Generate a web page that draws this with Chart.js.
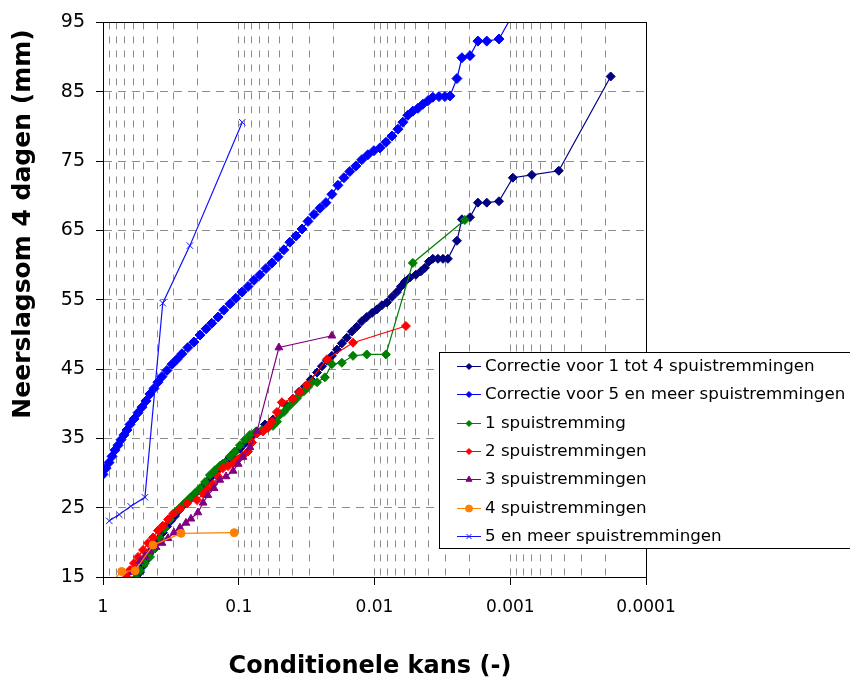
<!DOCTYPE html>
<html>
<head>
<meta charset="utf-8">
<script src="https://cdn.jsdelivr.net/npm/chart.js@4.4.1/dist/chart.umd.min.js"></script>
<style>
  html, body { margin: 0; padding: 0; background: #fff; }
  canvas { display: block; }
</style>
</head>
<body>
<canvas id="kansChart" width="850" height="681"></canvas>
<script>
// -------------------------------
// Data --------------------------
// -------------------------------
const seriesLabels = [
  "Correctie voor 1 tot 4 spuistremmingen",
  "Correctie voor 5 en meer spuistremmingen",
  "1 spuistremming",
  "2 spuistremmingen",
  "3 spuistremmingen",
  "4 spuistremmingen",
  "5 en meer spuistremmingen",
];

const xTickValues = [1, 0.1, 0.01, 0.001, 0.0001];
const xTickLabels = ["1", "0.1", "0.01", "0.001", "0.0001"];
const yTickValues = [15, 25, 35, 45, 55, 65, 75, 85, 95];

// Correctie voor 1 tot 4 spuistremmingen
const corr14Kans = [0.562, 0.534, 0.507, 0.482, 0.458, 0.436, 0.414, 0.387, 0.362, 0.338,
  0.316, 0.295, 0.276, 0.258, 0.241, 0.225, 0.210, 0.196, 0.183, 0.171,
  0.160, 0.150, 0.140, 0.131, 0.122, 0.114, 0.107, 0.0980, 0.0900, 0.0813,
  0.0734, 0.0641, 0.0560, 0.0497, 0.0442, 0.0399, 0.0360, 0.0325, 0.0294, 0.0265,
  0.0244, 0.0224, 0.0206, 0.0189, 0.0174, 0.0160, 0.0147, 0.0135, 0.0124, 0.0114,
  0.0104, 0.00960, 0.00882, 0.00810, 0.00744, 0.00684, 0.00639, 0.00597, 0.00549, 0.00496,
  0.00455, 0.00425, 0.00397, 0.00372, 0.00341, 0.00313, 0.00288, 0.00247, 0.00227, 0.00198,
  0.00173, 0.00149, 0.00121, 0.000957, 0.000693, 0.000439, 0.000182];
const corr14Neerslag = [14.9, 15.7, 16.6, 17.4, 18.3, 19.0, 19.7, 20.6, 21.4, 22.3,
  23.1, 23.8, 24.6, 25.3, 25.8, 26.4, 27.0, 27.5, 28.1, 28.7,
  29.4, 30.0, 30.7, 31.3, 31.8, 32.4, 33.0, 33.5, 34.3, 35.1,
  36.0, 37.0, 37.7, 38.5, 39.7, 40.7, 41.7, 42.5, 43.5, 44.5,
  45.4, 46.2, 46.9, 47.8, 48.7, 49.5, 50.4, 51.1, 51.9, 52.5,
  53.1, 53.6, 54.2, 54.6, 55.4, 56.1, 56.9, 57.6, 58.2, 58.6,
  59.1, 59.6, 60.5, 60.9, 60.9, 60.9, 60.9, 63.5, 66.6, 66.9,
  69.0, 69.0, 69.2, 72.6, 73.0, 73.6, 87.2];

// Correctie voor 5 en meer spuistremmingen
const corr5Kans = [1.000, 0.950, 0.903, 0.858, 0.816, 0.775, 0.737, 0.700, 0.666, 0.633,
  0.591, 0.552, 0.516, 0.482, 0.451, 0.421, 0.394, 0.368, 0.338, 0.310,
  0.285, 0.262, 0.237, 0.214, 0.193, 0.174, 0.158, 0.142, 0.129, 0.116,
  0.105, 0.0947, 0.0855, 0.0773, 0.0698, 0.0630, 0.0569, 0.0514, 0.0465, 0.0420,
  0.0379, 0.0342, 0.0309, 0.0279, 0.0252, 0.0228, 0.0206, 0.0186, 0.0168, 0.0152,
  0.0137, 0.0124, 0.0112, 0.0101, 0.00912, 0.00824, 0.00744, 0.00672, 0.00618, 0.00568,
  0.00522, 0.00479, 0.00440, 0.00404, 0.00372, 0.00335, 0.00303, 0.00278, 0.00247, 0.00227,
  0.00198, 0.00173, 0.00149, 0.00121, 0.000941];
const corr5Neerslag = [29.8, 30.7, 31.5, 32.4, 33.3, 34.0, 34.8, 35.5, 36.2, 37.0,
  37.8, 38.7, 39.5, 40.4, 41.4, 42.2, 43.1, 43.9, 44.8, 45.7,
  46.4, 47.2, 48.1, 48.9, 49.9, 50.8, 51.6, 52.5, 53.5, 54.4,
  55.2, 56.1, 56.9, 57.8, 58.6, 59.5, 60.3, 61.2, 62.2, 63.3,
  64.2, 65.2, 66.3, 67.3, 68.2, 69.0, 70.2, 71.5, 72.6, 73.5,
  74.3, 75.2, 75.9, 76.5, 76.9, 77.7, 78.6, 79.6, 80.6, 81.6,
  82.2, 82.6, 83.2, 83.7, 84.2, 84.3, 84.3, 84.4, 86.9, 89.9,
  90.2, 92.3, 92.3, 92.6, 96.4];

// 1 spuistremming
const een1Kans = [0.571, 0.534, 0.491, 0.451, 0.414, 0.380, 0.350, 0.321, 0.295, 0.271,
  0.249, 0.229, 0.210, 0.193, 0.177, 0.163, 0.150, 0.138, 0.126, 0.116,
  0.107, 0.0980, 0.0900, 0.0827, 0.0747, 0.0675, 0.0609, 0.0560, 0.0523, 0.0497,
  0.0465, 0.0434, 0.0399, 0.0373, 0.0354, 0.0331, 0.0309, 0.0289, 0.0265, 0.0232,
  0.0206, 0.0174, 0.0144, 0.0114, 0.00824, 0.00522, 0.00216];
const een1Neerslag = [14.9, 15.9, 17.0, 17.9, 19.1, 20.6, 22.0, 23.3, 24.3, 25.0,
  25.7, 26.4, 27.1, 27.8, 28.7, 29.7, 30.4, 31.0, 31.5, 32.4,
  33.1, 34.0, 34.8, 35.5, 36.0, 36.2, 36.5, 36.8, 37.4, 38.4,
  38.8, 39.5, 40.2, 40.8, 41.4, 41.8, 42.4, 43.1, 43.1, 43.8,
  45.7, 45.9, 46.9, 47.1, 47.1, 60.3, 66.5];

// 2 spuistremmingen
const twee2Kans = [0.666, 0.633, 0.591, 0.552, 0.507, 0.466, 0.428, 0.394, 0.362, 0.332,
  0.305, 0.271, 0.241, 0.203, 0.183, 0.169, 0.155, 0.142, 0.131, 0.120,
  0.110, 0.101, 0.0931, 0.0855, 0.0799, 0.0734, 0.0663, 0.0609, 0.0569, 0.0523,
  0.0481, 0.0399, 0.0354, 0.0315, 0.0224, 0.0144, 0.00587];
const twee2Neerslag = [15.0, 16.0, 17.0, 17.9, 18.9, 19.9, 20.7, 21.7, 22.4, 23.3,
  24.1, 24.8, 25.6, 26.1, 27.0, 27.7, 28.4, 29.5, 30.7, 31.0,
  31.4, 32.0, 32.5, 33.1, 34.4, 35.7, 36.0, 36.7, 37.4, 38.8,
  40.2, 40.7, 41.7, 42.7, 46.4, 48.8, 51.2];

// 3 spuistremmingen
const drie3Kans = [0.601, 0.534, 0.491, 0.451, 0.407, 0.368, 0.332, 0.300, 0.271, 0.245,
  0.225, 0.200, 0.183, 0.169, 0.152, 0.138, 0.124, 0.110, 0.101, 0.0931,
  0.0827, 0.0734, 0.0506, 0.0206];
const drie3Neerslag = [15.7, 17.3, 18.0, 18.7, 19.3, 19.9, 20.6, 21.4, 22.1, 22.8,
  23.4, 24.3, 25.7, 26.8, 27.8, 29.0, 29.5, 30.3, 31.3, 32.3,
  33.7, 36.0, 48.1, 49.8];

// 4 spuistremmingen
const vier4Kans = [0.893, 0.728, 0.581, 0.428, 0.266, 0.108];
const vier4Neerslag = [14.0, 15.8, 15.9, 19.6, 21.3, 21.4];

// 5 en meer spuistremmingen
const vijf5Kans = [0.899, 0.759, 0.625, 0.491, 0.363, 0.229, 0.0942];
const vijf5Neerslag = [23.1, 24.0, 25.2, 26.5, 54.5, 62.8, 80.6];

// -------------------------------
// Helpers -----------------------
// -------------------------------
const toPoints = (kans, neerslag) => kans.map((k, i) => ({ x: k, y: neerslag[i] }));

const isDecade = (v) => xTickValues.some((t) => Math.abs(t - v) < t * 1e-6);

// grid lines on every 1..9 x 10^k between 0.0001 and 1
const xGridValues = [];
xTickValues.slice(0, -1).forEach((dec) => {
  for (let m = 1; m <= 9; m++) xGridValues.push(+(m * dec / 10).toPrecision(6));
});
xGridValues.push(1);

function makeSeries(idx, kans, neerslag, color, style, radius, order) {
  return {
    label: seriesLabels[idx],
    data: toPoints(kans, neerslag),
    borderColor: color,
    backgroundColor: color,
    borderWidth: 1.2,
    pointStyle: style,
    pointRadius: radius,
    pointBorderWidth: 1,
    pointBackgroundColor: color,
    pointBorderColor: color,
    tension: 0,
    fill: false,
    order: order,
  };
}

// -------------------------------
// Plugins -----------------------
// -------------------------------
const whiteBackground = {
  id: "whiteBackground",
  beforeDraw(chart) {
    const ctx = chart.ctx;
    ctx.save();
    ctx.fillStyle = "#fff";
    ctx.fillRect(0, 0, chart.width, chart.height);
    ctx.restore();
  },
};

const frameTitlesLegend = {
  id: "frameTitlesLegend",
  afterDraw(chart) {
    const ctx = chart.ctx;
    const a = chart.chartArea;

    // plot frame
    ctx.save();
    ctx.strokeStyle = "#000";
    ctx.lineWidth = 1;
    ctx.strokeRect(Math.round(a.left) + 0.5, Math.round(a.top) + 0.5,
      Math.round(a.right - a.left), Math.round(a.bottom - a.top));

    // axis titles
    ctx.fillStyle = "#000";
    ctx.font = 'bold 24px "DejaVu Sans"';
    ctx.textAlign = "center";
    ctx.textBaseline = "middle";
    ctx.fillText("Conditionele kans (-)", 370, 667);

    ctx.save();
    ctx.translate(23, 224);
    ctx.rotate(-Math.PI / 2);
    ctx.font = 'bold 25px "DejaVu Sans"';
    ctx.fillText("Neerslagsom 4 dagen (mm)", 0, 0);
    ctx.restore();

    // legend box
    const box = { left: 439.5, top: 352.5, right: 853, bottom: 548.5 };
    ctx.fillStyle = "#fff";
    ctx.fillRect(box.left, box.top, box.right - box.left, box.bottom - box.top);
    ctx.strokeStyle = "#000";
    ctx.strokeRect(box.left, box.top, box.right - box.left, box.bottom - box.top);

    ctx.font = '16.7px "DejaVu Sans"';
    ctx.textAlign = "left";
    ctx.textBaseline = "middle";
    chart.data.datasets.forEach((ds, i) => {
      const y = Math.round(366 + i * 28.33) + 0.5;
      ctx.strokeStyle = ds.borderColor;
      ctx.lineWidth = 1;
      ctx.beginPath();
      ctx.moveTo(457, y);
      ctx.lineTo(481, y);
      ctx.stroke();
      ctx.fillStyle = ds.borderColor;
      Chart.helpers.drawPoint(ctx, {
        pointStyle: ds.pointStyle,
        radius: ds.pointStyle === "rectRot" ? 3 : 3.5,
        borderWidth: 1,
        rotation: 0,
      }, 469, y);
      ctx.fillStyle = "#000";
      ctx.fillText(ds.label, 485, y);
    });
    ctx.restore();
  },
};

// -------------------------------
// Chart -------------------------
// -------------------------------
const ctx = document.getElementById("kansChart").getContext("2d");
Chart.defaults.font.family = '"DejaVu Sans"';
Chart.defaults.color = "#000";

const kansChart = new Chart(ctx, {
  type: "line",
  data: {
    datasets: [
      makeSeries(0, corr14Kans, corr14Neerslag, "#000080", "rectRot", 4.5, 6),
      makeSeries(1, corr5Kans, corr5Neerslag, "#0000FF", "rectRot", 5, 5),
      makeSeries(2, een1Kans, een1Neerslag, "#008000", "rectRot", 4.5, 4),
      makeSeries(3, twee2Kans, twee2Neerslag, "#FF0000", "rectRot", 4.5, 3),
      makeSeries(4, drie3Kans, drie3Neerslag, "#800080", "triangle", 4.5, 2),
      makeSeries(5, vier4Kans, vier4Neerslag, "#FF8000", "circle", 4, 1),
      makeSeries(6, vijf5Kans, vijf5Neerslag, "#1010FF", "crossRot", 4.5, 0),
    ],
  },
  options: {
    responsive: false,
    animation: false,
    events: [],
    layout: { padding: { top: 16, right: 204, bottom: 0, left: 0 } },
    plugins: {
      legend: { display: false },
      tooltip: { enabled: false },
    },
    scales: {
      x: {
        type: "logarithmic",
        reverse: true,
        min: 0.0001,
        max: 1,
        afterBuildTicks(scale) {
          scale.ticks = xGridValues.map((v) => ({ value: v, major: isDecade(v) }));
        },
        afterFit(scale) {
          scale.height = 104;
        },
        grid: {
          color: "#8c8c8c",
          lineWidth: 1,
          drawTicks: true,
          tickLength: 8,
          tickColor: (c) => (c.tick && isDecade(c.tick.value) ? "#000" : "rgba(0,0,0,0)"),
        },
        border: { display: true, color: "#000", width: 1, dash: [7, 7] },
        ticks: {
          autoSkip: false,
          maxRotation: 0,
          padding: 12,
          font: { size: 17 },
          color: "#000",
          callback: function (value) {
            const i = xTickValues.findIndex((t) => Math.abs(t - value) < t * 1e-6);
            return i >= 0 ? xTickLabels[i] : "";
          },
        },
      },
      y: {
        type: "linear",
        min: 15,
        max: 95,
        afterBuildTicks(scale) {
          scale.ticks = yTickValues.map((v) => ({ value: v }));
        },
        afterFit(scale) {
          scale.width = 103;
        },
        grid: {
          color: "#8c8c8c",
          lineWidth: 1,
          drawTicks: true,
          tickLength: 7,
          tickColor: "#000",
        },
        border: { display: true, color: "#000", width: 1, dash: [8, 6] },
        ticks: {
          padding: 11,
          font: { size: 19 },
          color: "#000",
        },
      },
    },
  },
  plugins: [whiteBackground, frameTitlesLegend],
});
</script>
</body>
</html>
